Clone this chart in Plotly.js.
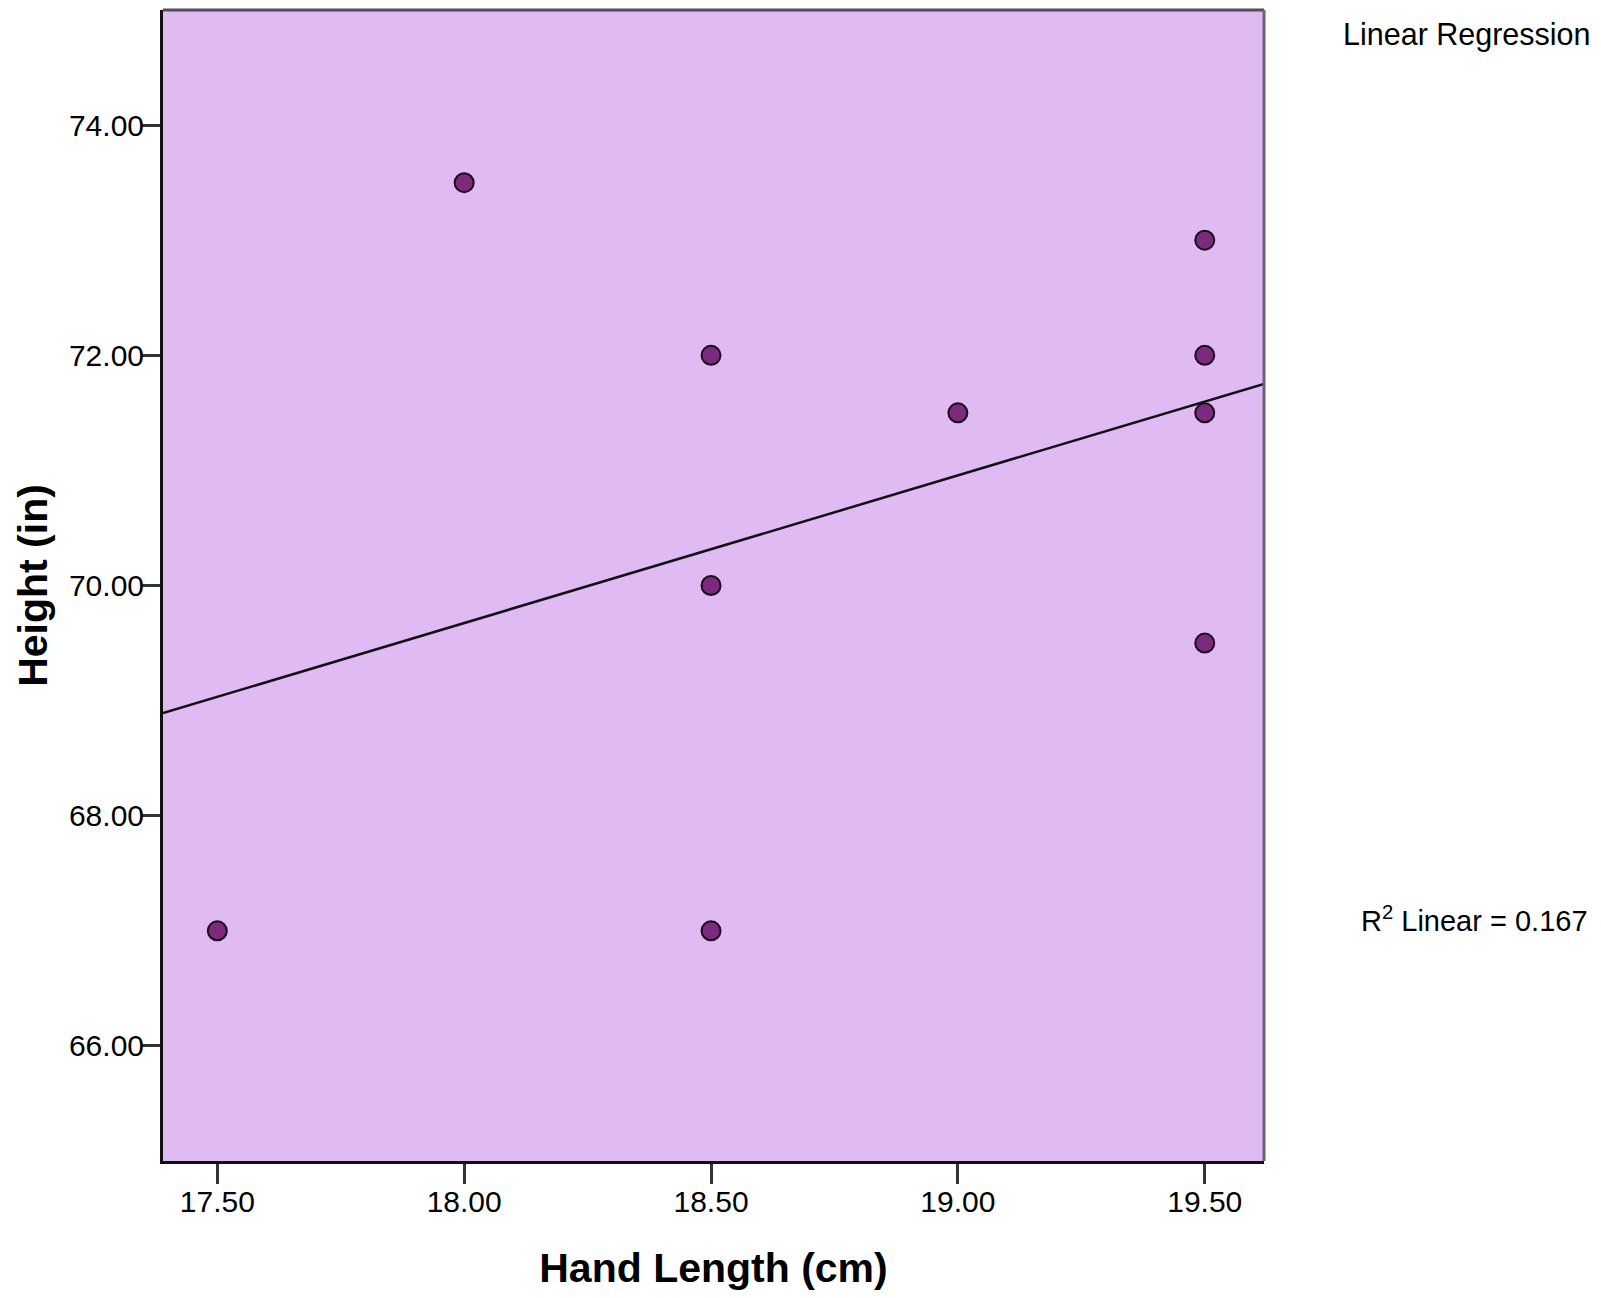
<!DOCTYPE html>
<html>
<head>
<meta charset="utf-8">
<script src="https://cdn.plot.ly/plotly-3.0.1.min.js"></script>
<style>html,body{margin:0;padding:0;background:#fff;}#chart{width:1601px;height:1298px;}</style>
</head>
<body>
<div id="chart"></div>
<script>
// Data
const handLength = [17.5, 18.0, 18.5, 18.5, 18.5, 19.0, 19.5, 19.5, 19.5, 19.5];
const height     = [67.0, 73.5, 72.0, 70.0, 67.0, 71.5, 73.0, 72.0, 71.5, 69.5];
const xTicks = [17.5, 18.0, 18.5, 19.0, 19.5];
const xTickText = ["17.50", "18.00", "18.50", "19.00", "19.50"];
const yTicks = [66, 68, 70, 72, 74];
const yTickText = ["66.00", "68.00", "70.00", "72.00", "74.00"];
const xRange = [17.39, 19.62];
const yRange = [65, 75];
const r2Label = "R<sup>2</sup> Linear = 0.167";
const fitLabel = "Linear Regression";

// Least-squares fit computed from the points
const n = handLength.length;
const mx = handLength.reduce((a, b) => a + b, 0) / n;
const my = height.reduce((a, b) => a + b, 0) / n;
let sxy = 0, sxx = 0;
for (let i = 0; i < n; i++) {
  sxy += (handLength[i] - mx) * (height[i] - my);
  sxx += (handLength[i] - mx) ** 2;
}
const slope = sxy / sxx;
const intercept = my - slope * mx;
const fitX = xRange.slice();
const fitY = fitX.map(x => intercept + slope * x);

const font = "'Liberation Sans', Arial, sans-serif";

const traces = [
  {
    x: fitX, y: fitY, type: 'scatter', mode: 'lines',
    line: {color: '#111111', width: 2.5},
    hoverinfo: 'skip', showlegend: false
  },
  {
    x: handLength, y: height, type: 'scatter', mode: 'markers',
    marker: {size: 19, color: '#7b2a7e', line: {color: '#1a0a1a', width: 2}},
    showlegend: false
  }
];

const layout = {
  width: 1601, height: 1298,
  paper_bgcolor: '#ffffff',
  plot_bgcolor: '#dfbaf3',
  margin: {l: 163, r: 337, t: 10, b: 137, pad: 0},
  showlegend: false,
  font: {family: font, color: '#000000', size: 30},
  xaxis: {
    range: xRange, tickvals: xTicks, ticktext: xTickText,
    showgrid: false, zeroline: false,
    showline: true, linecolor: '#111111', linewidth: 3, mirror: false,
    ticks: 'outside', ticklen: 20, tickwidth: 3, tickcolor: '#333333',
    ticklabelstandoff: -8,
    tickfont: {family: font, size: 30, color: '#000'},
    title: {text: '<b>Hand Length (cm)</b>', font: {family: font, size: 41, color: '#000'}, standoff: 37},
    automargin: false
  },
  yaxis: {
    range: yRange, tickvals: yTicks, ticktext: yTickText,
    showgrid: false, zeroline: false,
    showline: true, linecolor: '#111111', linewidth: 3, mirror: false,
    ticks: 'outside', ticklen: 19, tickwidth: 3, tickcolor: '#333333',
    ticklabelstandoff: -9,
    tickfont: {family: font, size: 30, color: '#000'},
    title: {text: '<b>Height (in)</b>', font: {family: font, size: 41, color: '#000'}, standoff: 9},
    automargin: false
  },
  shapes: [
    {type: 'line', xref: 'paper', yref: 'paper', x0: 0, x1: 1, y0: 1, y1: 1,
     line: {color: '#574a5c', width: 3}},
    {type: 'line', xref: 'paper', yref: 'paper', x0: 1, x1: 1, y0: 0, y1: 1,
     line: {color: '#6f6075', width: 3}}
  ],
  annotations: [
    {text: fitLabel, xref: 'paper', yref: 'paper', x: 1.2988, y: 0.979,
     xanchor: 'right', yanchor: 'middle', showarrow: false,
     font: {family: font, size: 30.5, color: '#000'}},
    {text: r2Label, xref: 'paper', yref: 'paper', x: 1.2961, y: 0.2103,
     xanchor: 'right', yanchor: 'middle', showarrow: false,
     font: {family: font, size: 29, color: '#000'}}
  ]
};

Plotly.newPlot('chart', traces, layout, {displayModeBar: false, staticPlot: true});
</script>
</body>
</html>
